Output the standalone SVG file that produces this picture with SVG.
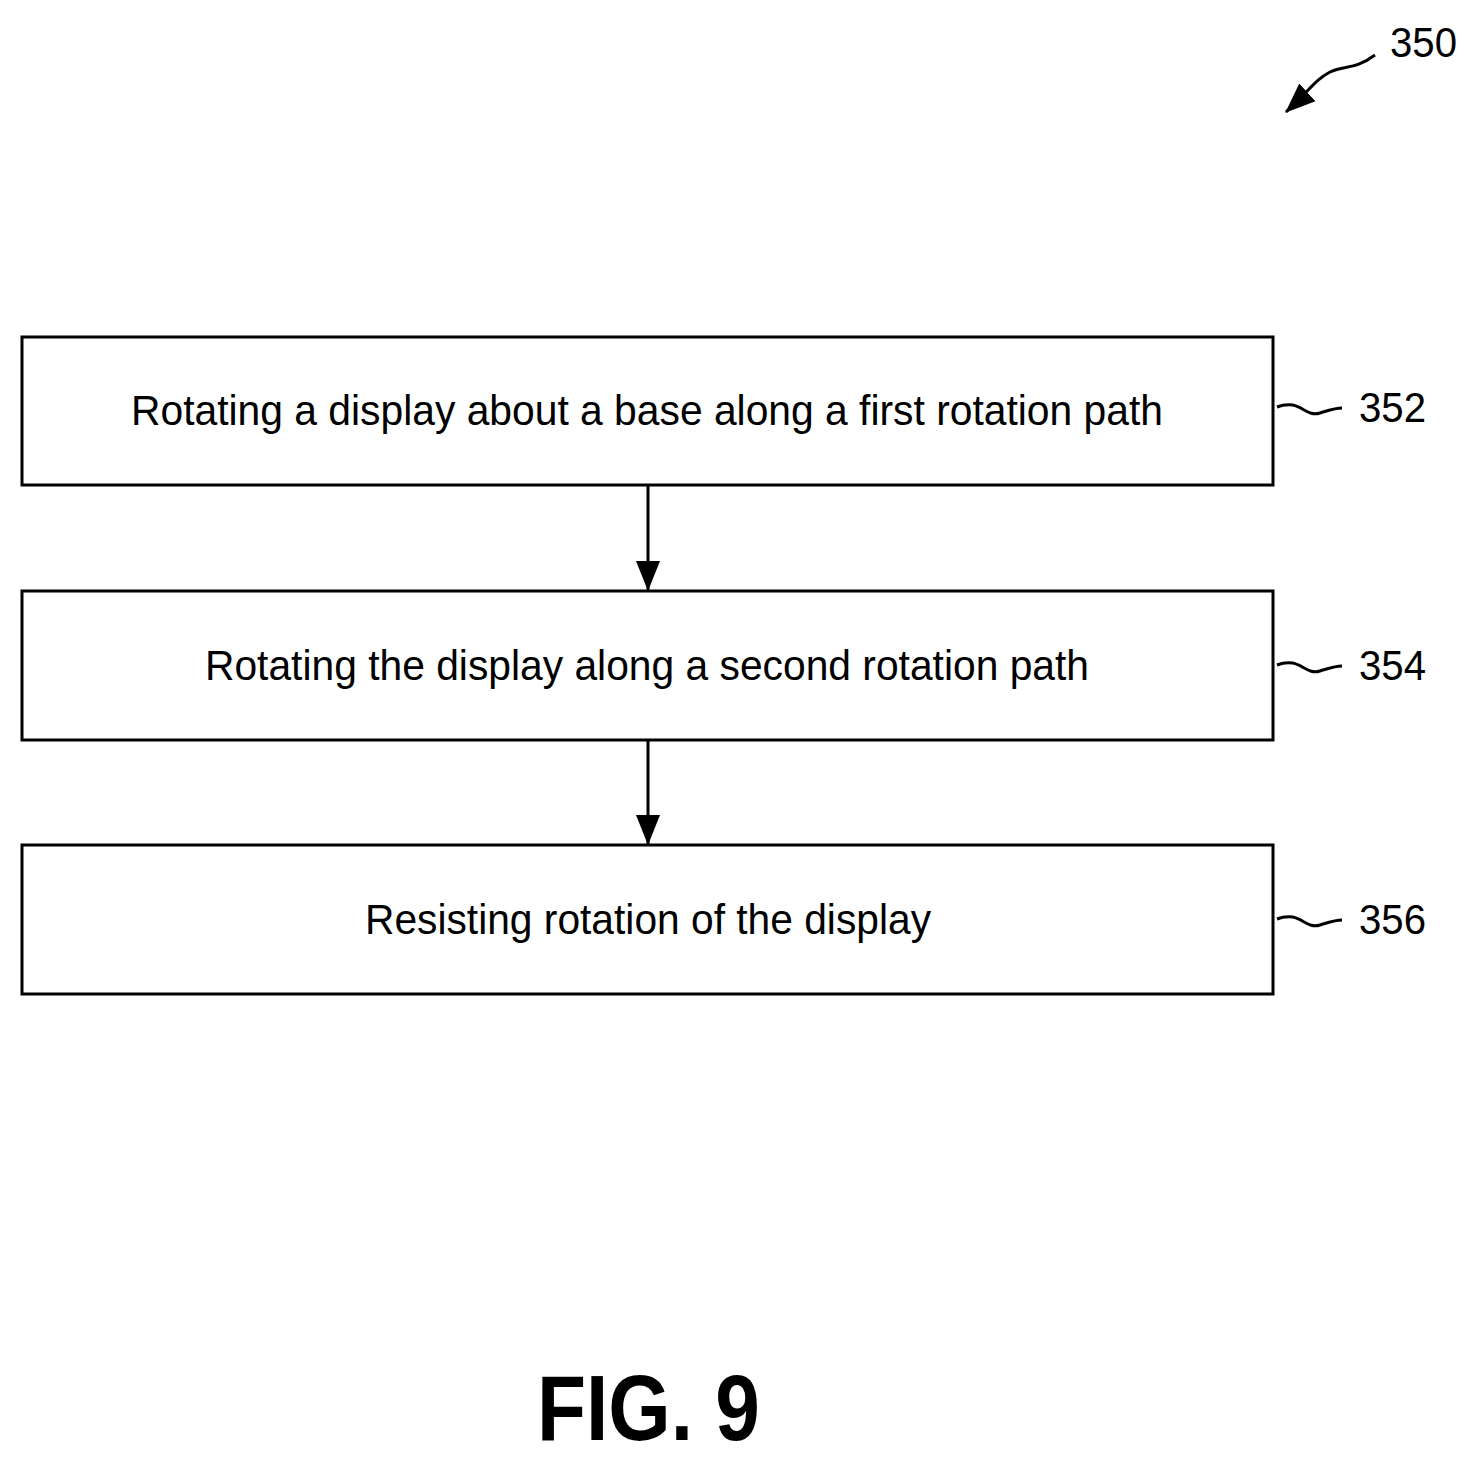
<svg xmlns="http://www.w3.org/2000/svg" width="1477" height="1463" viewBox="0 0 1477 1463">
<style>
.box{fill:#fff;stroke:#000;stroke-width:3}
.t{font-family:"Liberation Sans",Arial,sans-serif;font-size:42px;fill:#000}
.ln{fill:none;stroke:#000;stroke-width:3}
</style>
<defs><marker id="ah" markerWidth="10" markerHeight="10" refX="9" refY="5" orient="auto" markerUnits="userSpaceOnUse" viewBox="0 0 10 10"><path d="M0,0 L10,5 L0,10 z"/></marker>
<marker id="a2" markerWidth="30" markerHeight="30" refX="29" refY="15" orient="auto" markerUnits="userSpaceOnUse" viewBox="0 0 30 30"><path d="M0,3 L30,15 L0,27 z"/></marker></defs>
<rect width="1477" height="1463" fill="#fff"/>
<g id="n352"><rect class="box" x="22" y="337" width="1251" height="148"/><text class="t" x="131" y="425" textLength="1032" lengthAdjust="spacingAndGlyphs">Rotating a display about a base along a first rotation path</text></g>
<g id="n354"><rect class="box" x="22" y="591" width="1251" height="149"/><text class="t" x="205" y="680" textLength="884" lengthAdjust="spacingAndGlyphs">Rotating the display along a second rotation path</text></g>
<g id="n356"><rect class="box" x="22" y="845" width="1251" height="149"/><text class="t" x="365" y="934" textLength="566" lengthAdjust="spacingAndGlyphs">Resisting rotation of the display</text></g>
<g id="connectors">
<line class="ln" x1="648" y1="485" x2="648" y2="590" marker-end="url(#a2)"/>
<line class="ln" x1="648" y1="740" x2="648" y2="844" marker-end="url(#a2)"/>
<path class="ln" d="M1277,407 C1300,398 1305,418 1320,413 C1330,410 1335,408 1342,408"/>
<path class="ln" d="M1277,665 C1300,656 1305,676 1320,671 C1330,668 1335,666 1342,666"/>
<path class="ln" d="M1277,919 C1300,910 1305,930 1320,925 C1330,922 1335,920 1342,920"/>
<path class="ln" d="M1375,55 C1355,70 1345,65 1330,72 C1315,80 1310,90 1286,112" marker-end="url(#a2)"/>
</g>
<text class="t" x="1359" y="422" textLength="67" lengthAdjust="spacingAndGlyphs">352</text>
<text class="t" x="1359" y="680" textLength="67" lengthAdjust="spacingAndGlyphs">354</text>
<text class="t" x="1359" y="934" textLength="67" lengthAdjust="spacingAndGlyphs">356</text>
<text class="t" x="1390" y="57" textLength="67" lengthAdjust="spacingAndGlyphs">350</text>
<text x="537" y="1440" font-family="Liberation Sans,Arial,sans-serif" font-weight="bold" font-size="92" textLength="223" lengthAdjust="spacingAndGlyphs">FIG. 9</text>
</svg>
